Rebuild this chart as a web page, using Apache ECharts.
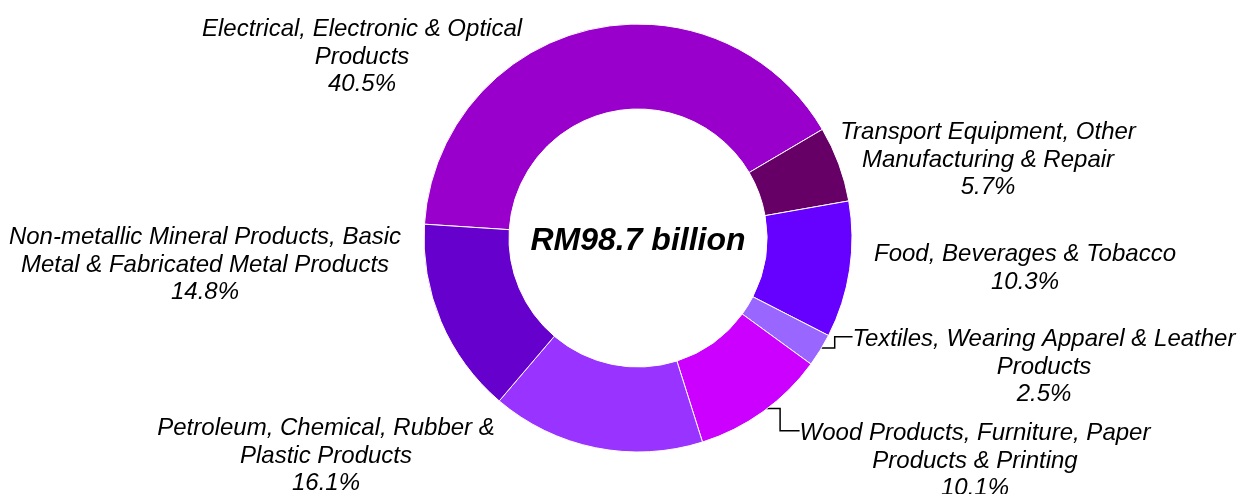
<!DOCTYPE html>
<html>
<head>
<meta charset="utf-8">
<script src="https://cdn.jsdelivr.net/npm/echarts@6/dist/echarts.min.js"></script>
<style>
  html, body { margin: 0; padding: 0; background: #fff; }
  #chart { width: 1240px; height: 494px; }
</style>
</head>
<body>
<div id="chart"></div>
<script>
// sectors, clockwise from the left edge
const categories = [
    'Electrical, Electronic & Optical\nProducts',
    'Transport Equipment, Other\nManufacturing & Repair',
    'Food, Beverages & Tobacco',
    'Textiles, Wearing Apparel & Leather\nProducts',
    'Wood Products, Furniture, Paper\nProducts & Printing',
    'Petroleum, Chemical, Rubber &\nPlastic Products',
    'Non-metallic Mineral Products, Basic\nMetal & Fabricated Metal Products'
]
const shares = [40.5, 5.7, 10.3, 2.5, 10.1, 16.1, 14.8]
const totalText = 'RM98.7 billion'

const colors = ['#9900CC', '#660066', '#6600FF', '#9966FF', '#CC00FF', '#9933FF', '#6600CC']
// label block anchors (top centre) and which ones get a leader line
const labelPos = [[362, 16], [988, 119], [1025, 241], [1044, 326], [975, 420], [326, 415], [205, 224]]
const withLine = [false, false, false, true, true, false, false]

const cx = 638, cy = 238, rIn = 129, rOut = 214
const startAngle = 176.3
const lineH = 27.5

var myChart = echarts.init(document.getElementById('chart'))

// mid angle of each sector (degrees, maths convention)
let cum = 0
const midAngles = shares.map(v => {
    let a = startAngle - (cum + v / 2) * 3.6
    cum += v
    return a
})

const data = categories.map((name, i) => ({
    name: name,
    value: shares[i],
    itemStyle: { color: colors[i] },
    labelLine: { show: withLine[i] }
}))

option = {
    animation: false,
    graphic: [{
        type: 'text',
        x: cx,
        y: cy + 3,
        style: {
            text: totalText,
            fontFamily: 'Liberation Sans, Arial, sans-serif',
            fontSize: 32,
            fontWeight: 'bold',
            fontStyle: 'italic',
            fill: '#000',
            align: 'center',
            verticalAlign: 'middle'
        }
    }],
    series: [{
        type: 'pie',
        center: [cx, cy],
        radius: [rIn, rOut],
        startAngle: startAngle,
        clockwise: true,
        avoidLabelOverlap: false,
        itemStyle: { borderColor: '#fff', borderWidth: 1 },
        emphasis: { disabled: true },
        label: {
            show: true,
            position: 'outside',
            fontFamily: 'Liberation Sans, Arial, sans-serif',
            fontSize: 24,
            fontStyle: 'italic',
            color: '#000',
            lineHeight: lineH,
            align: 'center',
            formatter: p => p.name + '\n' + p.value.toFixed(1) + '%'
        },
        labelLine: {
            lineStyle: { color: '#000', width: 1.5 }
        },
        labelLayout: function(params) {
            let i = params.dataIndex
            let pos = labelPos[i]
            let out = { x: pos[0], y: pos[1], align: 'center', verticalAlign: 'top' }
            if (withLine[i]) {
                let a = midAngles[i] * Math.PI / 180
                let sx = cx + 210 * Math.cos(a)
                let sy = cy - 210 * Math.sin(a)
                let ex = pos[0] - params.labelRect.width / 2
                let ey = pos[1] + lineH / 2 - 3
                let mx = (sx + ex) / 2
                out.labelLinePoints = [[sx, sy], [mx, sy], [mx, ey], [ex, ey]]
            }
            return out
        },
        data: data
    }]
};
myChart.setOption(option);
</script>
</body>
</html>
